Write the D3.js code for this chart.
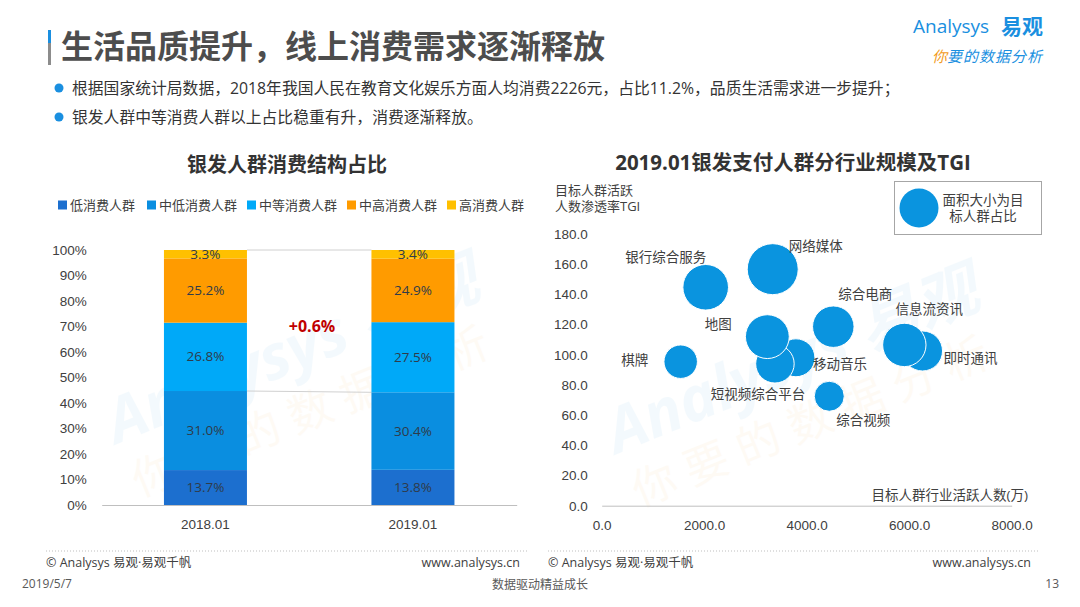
<!DOCTYPE html>
<html lang="zh">
<head>
<meta charset="UTF-8">
<title>生活品质提升，线上消费需求逐渐释放</title>
<style>
  html, body { margin: 0; padding: 0; background: #fff; }
  svg { display: block; font-family: "Open Sans", "Noto Sans CJK SC", sans-serif; }
  .axis text { fill: #404040; font-size: 13.5px; }
</style>
</head>
<body>
<svg id="page" width="1080" height="607"></svg>
<script src="https://d3js.org/d3.v7.min.js"></script>
<script>
// ---- left chart data: consumption structure (%)
var periods = ["2018.01", "2019.01"];
var groups = ["低消费人群", "中低消费人群", "中等消费人群", "中高消费人群", "高消费人群"];
var low = [13.7, 13.8];
var midLow = [31.0, 30.4];
var mid = [26.8, 27.5];
var midHigh = [25.2, 24.9];
var high = [3.3, 3.4];
var pctTicks = [0, 10, 20, 30, 40, 50, 60, 70, 80, 90, 100];

// ---- right chart data: industries, active users (万), TGI, share (bubble area)
var industries = ["移动音乐", "短视频综合平台", "地图", "银行综合服务", "网络媒体", "综合电商",
                  "即时通讯", "信息流资讯", "棋牌", "综合视频"];
var activeUsers = [3790, 3380, 3232, 2029, 3337, 4519, 6260, 5905, 1541, 4440];
var tgi = [98.0, 94.0, 112.0, 144.7, 156.7, 118.6, 102.5, 106.5, 95.4, 72.5];
var share = [3.6, 3.7, 4.8, 5.2, 6.5, 4.3, 4.0, 4.7, 2.8, 2.25];
var xTicks = [0, 2000, 4000, 6000, 8000];
var yTicks = [0, 20, 40, 60, 80, 100, 120, 140, 160, 180];

// label placement relative to bubble centre (layout only)
var labelOffset = {
  "银行综合服务": [-40, -30], "网络媒体": [43, -23], "综合电商": [32, -32],
  "信息流资讯": [25, -35], "地图": [-49, -12], "即时通讯": [48, 8],
  "移动音乐": [44, 7], "棋牌": [-46, -1], "短视频综合平台": [-17, 31],
  "综合视频": [34, 24]
};

var svg = d3.select("#page");
var blue = "#0a94df";

// ---------------- watermarks
function watermark(cx, cy) {
  var g = svg.append("g").attr("transform", "translate(" + cx + "," + cy + ") rotate(-22)")
    .attr("opacity", 0.045);
  g.append("text").attr("text-anchor", "middle").attr("font-size", 62).attr("font-weight", "bold")
    .attr("fill", "#0a8fe0").attr("font-style", "italic").text("Analysys 易观");
  g.append("text").attr("text-anchor", "middle").attr("y", 58).attr("font-size", 44)
    .attr("fill", "#f29b1d").attr("letter-spacing", 12).text("你要的数据分析");
}
watermark(300, 370);
watermark(800, 380);

// ---------------- header
svg.append("rect").attr("x", 48).attr("y", 30).attr("width", 3).attr("height", 13).attr("fill", "#1a8fe0");
svg.append("rect").attr("x", 48).attr("y", 43).attr("width", 3).attr("height", 22).attr("fill", "#8c8c8c");
svg.append("text").attr("x", 61).attr("y", 58).attr("font-size", 32).attr("font-weight", "bold")
  .attr("fill", "#4d4d4d").text("生活品质提升，线上消费需求逐渐释放");

var bullets = [
  "根据国家统计局数据，2018年我国人民在教育文化娱乐方面人均消费2226元，占比11.2%，品质生活需求进一步提升；",
  "银发人群中等消费人群以上占比稳重有升，消费逐渐释放。"
];
bullets.forEach(function (t, i) {
  var yy = 88 + i * 29;
  svg.append("circle").attr("cx", 59).attr("cy", yy).attr("r", 4.5).attr("fill", "#1a8fe0");
  svg.append("text").attr("x", 72).attr("y", yy + 5.5).attr("font-size", 15.8).attr("fill", "#333")
    .text(t);
});

// logo
svg.append("text").attr("x", 913).attr("y", 33).attr("font-size", 19).attr("fill", "#1a8fe0")
  .text("Analysys");
svg.append("text").attr("x", 1001).attr("y", 34).attr("font-size", 21).attr("font-weight", "bold")
  .attr("fill", "#1a8fe0").text("易观");
var slogan = svg.append("text").attr("x", 932).attr("y", 62).attr("font-size", 15)
  .attr("font-style", "italic");
slogan.append("tspan").attr("fill", "#f29b1d").text("你");
slogan.append("tspan").attr("fill", "#1a8fe0").attr("letter-spacing", 1).text("要的数据分析");

// ---------------- left chart: stacked bars
svg.append("text").attr("x", 287).attr("y", 172).attr("text-anchor", "middle")
  .attr("font-size", 20).attr("font-weight", "bold").attr("fill", "#333").text("银发人群消费结构占比");

var colors = ["#1c6fcf", "#0a8ee0", "#00a9f8", "#ff9b00", "#ffc000"];
var series = [low, midLow, mid, midHigh, high];

var legX = [58, 147, 247, 347, 447];
groups.forEach(function (g, i) {
  svg.append("rect").attr("x", legX[i]).attr("y", 200.5).attr("width", 9).attr("height", 9)
    .attr("fill", colors[i]);
  svg.append("text").attr("x", legX[i] + 12).attr("y", 209.5).attr("font-size", 13)
    .attr("fill", "#404040").text(g);
});

var x = d3.scaleBand().domain(periods).range([101.7, 516.7]).paddingInner(0.6).paddingOuter(0.3);
var y = d3.scaleLinear().domain([0, 100]).range([505, 250]);

var rows = periods.map(function (p, i) {
  var r = { period: p };
  groups.forEach(function (g, k) { r[g] = series[k][i]; });
  return r;
});
var stacked = d3.stack().keys(groups)(rows);

// series connector lines
var lineColor = "#d0d0d0";
[1, 4].forEach(function (k) {
  svg.append("line")
    .attr("x1", x(periods[0]) + x.bandwidth()).attr("y1", y(stacked[k][0][1]))
    .attr("x2", x(periods[1])).attr("y2", y(stacked[k][1][1]))
    .attr("stroke", lineColor).attr("stroke-width", 1);
});

var layer = svg.append("g").selectAll("g").data(stacked).enter().append("g")
  .attr("fill", function (d, i) { return colors[i]; });
layer.selectAll("rect").data(function (d) { return d; }).enter().append("rect")
  .attr("x", function (d) { return x(d.data.period); })
  .attr("y", function (d) { return y(d[1]); })
  .attr("width", x.bandwidth())
  .attr("height", function (d) { return y(d[0]) - y(d[1]); });

layer.selectAll("text").data(function (d) { return d; }).enter().append("text")
  .attr("x", function (d) { return x(d.data.period) + x.bandwidth() / 2; })
  .attr("y", function (d) { return (y(d[0]) + y(d[1])) / 2 + 4.5; })
  .attr("text-anchor", "middle").attr("font-size", 13.5).attr("fill", "#2f3b4a")
  .text(function (d) { return (d[1] - d[0]).toFixed(1) + "%"; });

svg.append("text").attr("x", 312).attr("y", 332).attr("text-anchor", "middle")
  .attr("font-size", 16).attr("font-weight", "bold").attr("fill", "#c00000").text("+0.6%");

var yAxisL = svg.append("g").attr("class", "axis").attr("transform", "translate(101.7,0)")
  .call(d3.axisLeft(y).tickValues(pctTicks).tickFormat(function (d) { return d + "%"; })
    .tickSize(0).tickPadding(15));
yAxisL.select(".domain").remove();

var xAxisL = svg.append("g").attr("class", "axis").attr("transform", "translate(0,505)")
  .call(d3.axisBottom(x).tickSize(0).tickPadding(14));
xAxisL.select(".domain").attr("stroke", "#bfbfbf");

// ---------------- right chart: bubbles
svg.append("text").attr("x", 793).attr("y", 170).attr("text-anchor", "middle")
  .attr("font-size", 20.5).attr("font-weight", "bold").attr("fill", "#333")
  .text("2019.01银发支付人群分行业规模及TGI");

svg.append("text").attr("x", 555).attr("y", 195).attr("font-size", 13).attr("fill", "#404040")
  .text("目标人群活跃");
svg.append("text").attr("x", 555).attr("y", 211).attr("font-size", 13).attr("fill", "#404040")
  .text("人数渗透率TGI");

var xs = d3.scaleLinear().domain([0, 8000]).range([601.7, 1011.7]);
var ys = d3.scaleLinear().domain([0, 180]).range([505.7, 234]);
var rs = d3.scaleSqrt().domain([0, 6.5]).range([0, 25.5]);

var yAxisR = svg.append("g").attr("class", "axis").attr("transform", "translate(601.7,0)")
  .call(d3.axisLeft(ys).tickValues(yTicks).tickFormat(d3.format(".1f")).tickSize(0).tickPadding(14));
yAxisR.select(".domain").remove();

var xAxisR = svg.append("g").attr("class", "axis").attr("transform", "translate(0,505.7)")
  .call(d3.axisBottom(xs).tickValues(xTicks).tickFormat(d3.format(".1f")).tickSize(0).tickPadding(15));
xAxisR.select(".domain").attr("stroke", "#bfbfbf");

svg.append("text").attr("x", 1028).attr("y", 500).attr("text-anchor", "end").attr("font-size", 13.5)
  .attr("fill", "#404040").text("目标人群行业活跃人数(万)");

var bubbles = industries.map(function (n, i) {
  return { name: n, x: activeUsers[i], y: tgi[i], s: share[i] };
});

svg.append("g").selectAll("circle").data(bubbles).enter().append("circle")
  .attr("cx", function (d) { return xs(d.x); })
  .attr("cy", function (d) { return ys(d.y); })
  .attr("r", function (d) { return rs(d.s); })
  .attr("fill", blue).attr("stroke", "#fff").attr("stroke-width", 1);

svg.append("g").selectAll("text").data(bubbles).enter().append("text")
  .attr("x", function (d) { return xs(d.x) + labelOffset[d.name][0]; })
  .attr("y", function (d) { return ys(d.y) + labelOffset[d.name][1] + 4.5; })
  .attr("text-anchor", "middle").attr("font-size", 13.5).attr("fill", "#404040")
  .text(function (d) { return d.name; });

// bubble legend
svg.append("rect").attr("x", 894.5).attr("y", 181.5).attr("width", 147).attr("height", 53)
  .attr("fill", "#fff").attr("stroke", "#a6a6a6");
svg.append("circle").attr("cx", 919).attr("cy", 208).attr("r", 19.5).attr("fill", blue);
svg.append("text").attr("x", 983).attr("y", 204.5).attr("text-anchor", "middle").attr("font-size", 13.5)
  .attr("fill", "#404040").text("面积大小为目");
svg.append("text").attr("x", 983).attr("y", 221).attr("text-anchor", "middle").attr("font-size", 13.5)
  .attr("fill", "#404040").text("标人群占比");

// ---------------- footers
[[46, 528], [548, 1039]].forEach(function (p) {
  svg.append("line").attr("x1", p[0]).attr("x2", p[1]).attr("y1", 551).attr("y2", 551)
    .attr("stroke", "#bfbfbf").attr("stroke-dasharray", "1,2");
  svg.append("text").attr("x", p[0]).attr("y", 567).attr("font-size", 12.5).attr("fill", "#404040")
    .text("© Analysys 易观·易观千帆");
  svg.append("text").attr("x", p[1] - 8).attr("y", 567).attr("text-anchor", "end").attr("font-size", 12.5)
    .attr("fill", "#404040").text("www.analysys.cn");
});

svg.append("text").attr("x", 22).attr("y", 588).attr("font-size", 12).attr("fill", "#595959").text("2019/5/7");
svg.append("text").attr("x", 540).attr("y", 589).attr("text-anchor", "middle").attr("font-size", 12)
  .attr("fill", "#595959").text("数据驱动精益成长");
svg.append("text").attr("x", 1059).attr("y", 588).attr("text-anchor", "end").attr("font-size", 12)
  .attr("fill", "#595959").text("13");
</script>
</body>
</html>
